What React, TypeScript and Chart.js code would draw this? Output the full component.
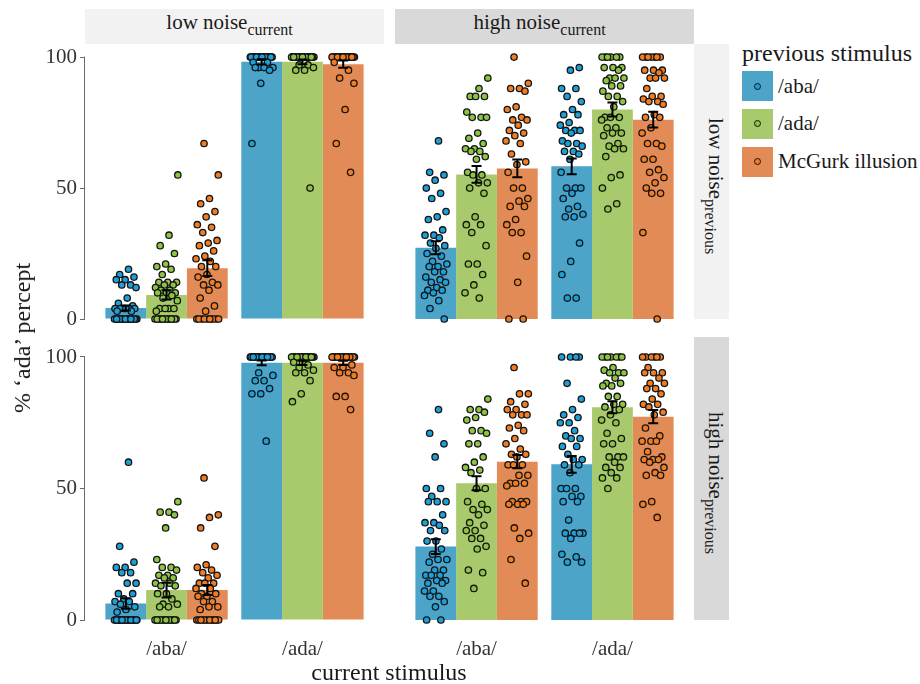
import React, { useEffect, useRef } from 'react';
import { Chart, registerables } from 'chart.js';

Chart.register(...registerables);
Chart.defaults.font.family = '"Liberation Serif", "DejaVu Serif", serif';

// ---------------- data ----------------
const categories = ['/aba/', '/ada/'];
const seriesNames = ['/aba/', '/ada/', 'McGurk illusion'];
const yTicks = [0, 50, 100];

// bar means: [series][category]
const meanTL = [[4.2, 98.2], [9.2, 98.2], [19.4, 97.3]];
const meanTR = [[27.2, 58.3], [55.2, 80.0], [57.5, 76.1]];
const meanBL = [[6.3, 97.8], [11.4, 97.8], [11.4, 97.8]];
const meanBR = [[27.9, 59.2], [52.0, 80.9], [60.2, 77.3]];

// standard errors: [series][category]
const seTL = [[1.0, 1.0], [1.8, 0.9], [3.0, 1.4]];
const seTR = [[2.5, 3.0], [3.2, 2.7], [3.4, 3.0]];
const seBL = [[2.0, 0.9], [2.8, 0.8], [1.9, 0.8]];
const seBR = [[2.8, 3.2], [2.7, 2.3], [2.5, 2.5]];

// individual participants: panel_category_previousStimulus (A=/aba/, D=/ada/, M=McGurk)
const tl_aba_A = [19, 17, 16, 15, 15, 13, 13, 12, 8, 6, 5, 4, 4, 4, 4, 4, 4, 3, 3, 0, 0, 0, 0, 0, 0, 0, 0, 0, 0, 0, 0, 0, 0, 0, 0, 0, 0, 0, 0, 0];
const tl_aba_D = [55, 32, 28, 25, 21, 20, 19, 17, 14, 14, 14, 13, 13, 12, 11, 11, 10, 10, 10, 9, 8, 7, 4, 4, 4, 4, 3, 0, 0, 0, 0, 0, 0, 0, 0, 0, 0, 0, 0, 0, 0, 0];
const tl_aba_M = [67, 55, 46, 44, 41, 39, 36, 35, 33, 30, 29, 28, 26, 24, 23, 22, 20, 20, 17, 16, 14, 13, 13, 11, 8, 5, 3, 0, 0, 0, 0, 0, 0, 0, 0, 0, 0];
const tl_ada_A = [100, 100, 100, 100, 100, 100, 100, 100, 100, 100, 100, 100, 100, 100, 100, 100, 100, 100, 100, 100, 100, 100, 100, 100, 100, 100, 100, 100, 98, 98, 96, 96, 96, 96, 95, 90, 67];
const tl_ada_D = [100, 100, 100, 100, 100, 100, 100, 100, 100, 100, 100, 100, 100, 100, 100, 100, 100, 100, 100, 100, 100, 100, 100, 100, 100, 100, 100, 100, 100, 100, 97, 97, 96, 95, 95, 50];
const tl_ada_M = [100, 100, 100, 100, 100, 100, 100, 100, 100, 100, 100, 100, 100, 100, 100, 100, 100, 100, 100, 100, 100, 100, 100, 100, 100, 100, 100, 100, 100, 100, 98, 95, 92, 90, 80, 67, 56];

const tr_aba_A = [68, 56, 55, 53, 50, 48, 46, 41, 39, 38, 34, 32, 32, 31, 29, 28, 27, 25, 24, 22, 21, 20, 20, 18, 18, 16, 15, 14, 14, 12, 11, 11, 10, 9, 7, 4, 0];
const tr_aba_D = [92, 88, 85, 85, 85, 79, 77, 77, 77, 71, 69, 67, 65, 65, 64, 64, 62, 61, 56, 55, 55, 52, 52, 50, 48, 39, 36, 36, 33, 28, 21, 21, 17, 13, 10, 8];
const tr_aba_M = [100, 90, 88, 88, 87, 81, 80, 77, 76, 76, 74, 72, 71, 70, 68, 67, 63, 60, 59, 56, 50, 50, 46, 45, 43, 43, 38, 36, 33, 33, 24, 14, 0, 0];
const tr_ada_A = [96, 95, 88, 88, 85, 83, 80, 78, 78, 75, 74, 72, 72, 72, 71, 68, 67, 67, 66, 64, 64, 63, 61, 56, 50, 50, 50, 48, 46, 43, 42, 40, 39, 39, 29, 22, 17, 8, 8];
const tr_ada_D = [100, 100, 100, 100, 100, 100, 96, 96, 96, 95, 92, 92, 92, 91, 89, 89, 87, 85, 85, 83, 81, 77, 77, 77, 76, 73, 73, 71, 71, 70, 67, 66, 65, 65, 62, 55, 54, 50, 44, 42];
const tr_ada_M = [100, 100, 100, 100, 100, 100, 100, 95, 95, 95, 94, 92, 92, 92, 88, 85, 85, 84, 83, 83, 82, 78, 77, 77, 73, 71, 67, 67, 66, 61, 61, 57, 56, 54, 52, 50, 48, 48, 33, 0];

const bl_aba_A = [60, 28, 22, 20, 20, 18, 18, 14, 14, 10, 10, 8, 7, 7, 6, 5, 4, 3, 0, 0, 0, 0, 0, 0, 0, 0, 0, 0, 0, 0, 0, 0, 0, 0, 0, 0, 0, 0, 0, 0, 0, 0];
const bl_aba_D = [45, 41, 41, 40, 35, 23, 20, 20, 19, 17, 17, 16, 16, 14, 14, 13, 13, 10, 10, 8, 6, 6, 5, 5, 0, 0, 0, 0, 0, 0, 0, 0, 0, 0, 0, 0, 0, 0, 0, 0];
const bl_aba_M = [54, 40, 39, 35, 28, 21, 20, 19, 18, 17, 16, 14, 14, 14, 12, 12, 10, 10, 9, 9, 7, 7, 5, 5, 4, 0, 0, 0, 0, 0, 0, 0, 0, 0, 0, 0, 0, 0, 0];
const bl_ada_A = [100, 100, 100, 100, 100, 100, 100, 100, 100, 100, 100, 100, 100, 100, 100, 100, 100, 100, 100, 100, 100, 100, 100, 100, 100, 100, 100, 100, 100, 100, 94, 93, 91, 91, 88, 86, 86, 68];
const bl_ada_D = [100, 100, 100, 100, 100, 100, 100, 100, 100, 100, 100, 100, 100, 100, 100, 100, 100, 100, 100, 100, 100, 100, 100, 100, 100, 100, 100, 100, 98, 98, 97, 96, 95, 94, 94, 91, 86, 83];
const bl_ada_M = [100, 100, 100, 100, 100, 100, 100, 100, 100, 100, 100, 100, 100, 100, 100, 100, 100, 100, 100, 100, 100, 100, 100, 100, 100, 100, 100, 100, 97, 96, 96, 94, 94, 93, 85, 85, 80];

const br_aba_A = [80, 71, 67, 62, 50, 50, 47, 45, 45, 45, 40, 37, 37, 36, 34, 34, 30, 30, 27, 25, 23, 23, 22, 19, 19, 17, 17, 17, 15, 15, 14, 14, 11, 11, 9, 9, 7, 5, 0, 0];
const br_aba_D = [84, 80, 80, 79, 77, 76, 72, 72, 71, 67, 67, 62, 60, 58, 57, 56, 50, 50, 45, 44, 42, 42, 40, 37, 36, 34, 34, 31, 31, 28, 27, 19, 18, 12];
const br_aba_M = [96, 86, 86, 83, 82, 80, 80, 78, 78, 78, 74, 73, 72, 69, 67, 65, 63, 63, 62, 59, 59, 59, 55, 55, 52, 52, 52, 51, 45, 45, 45, 44, 44, 44, 35, 33, 31, 23, 14];
const br_ada_A = [100, 100, 100, 100, 90, 84, 80, 78, 77, 75, 75, 72, 70, 69, 69, 66, 66, 63, 61, 61, 59, 59, 56, 50, 50, 50, 47, 47, 45, 45, 38, 33, 33, 33, 33, 31, 25, 24, 22, 22];
const br_ada_D = [100, 100, 100, 100, 100, 100, 100, 96, 95, 94, 94, 94, 92, 90, 90, 89, 89, 85, 85, 82, 82, 81, 80, 78, 76, 75, 71, 69, 67, 67, 62, 62, 62, 60, 58, 58, 56, 54, 54, 50];
const br_ada_M = [100, 100, 100, 100, 100, 100, 96, 94, 94, 94, 92, 90, 90, 88, 88, 86, 84, 82, 82, 81, 79, 78, 73, 70, 68, 68, 68, 64, 62, 61, 61, 61, 60, 58, 56, 55, 55, 45, 44, 39];

// ---------------- styling ----------------
const barColors = ['#4ca4c9', '#a8ca6c', '#e38b57'];
const pointColors = ['#1d9fda', '#8cc443', '#f27c22'];
const FONT = '"Liberation Serif", "DejaVu Serif", serif';
const GROUP = 0.9;
const JITTER = 0.085;
const barOffset = (s: number) => (s - 1) * (GROUP / 3);
const jitter = (i: number, s: number, c: number) => {
  const u = ((i + 1) * 0.6180339887 + s * 0.37 + c * 0.21) % 1;
  return (u - 0.5) * 2 * JITTER;
};

type PanelDef = {
  means: number[][];
  se: number[][];
  points: number[][][];
  yMax: number;
  showY: boolean;
  showX: boolean;
  left: number;
  top: number;
  w: number;
  h: number;
};

const panels: PanelDef[] = [
  { means: meanTL, se: seTL, points: [[tl_aba_A, tl_ada_A], [tl_aba_D, tl_ada_D], [tl_aba_M, tl_ada_M]], yMax: 105, showY: true, showX: false, left: 0, top: 44, w: 384, h: 289 },
  { means: meanTR, se: seTR, points: [[tr_aba_A, tr_ada_A], [tr_aba_D, tr_ada_D], [tr_aba_M, tr_ada_M]], yMax: 105, showY: false, showX: false, left: 395, top: 44, w: 299, h: 289 },
  { means: meanBL, se: seBL, points: [[bl_aba_A, bl_ada_A], [bl_aba_D, bl_ada_D], [bl_aba_M, bl_ada_M]], yMax: 107.6, showY: true, showX: true, left: 0, top: 337, w: 384, h: 343 },
  { means: meanBR, se: seBR, points: [[br_aba_A, br_ada_A], [br_aba_D, br_ada_D], [br_aba_M, br_ada_M]], yMax: 107.6, showY: false, showX: true, left: 395, top: 337, w: 299, h: 343 },
];

const errorBarPlugin = {
  id: 'errorBars',
  afterDatasetsDraw(chart: any, _args: any, opts: any) {
    const { ctx } = chart;
    const x = chart.scales.x;
    const y = chart.scales.y;
    ctx.save();
    ctx.strokeStyle = '#000';
    ctx.lineWidth = 2;
    (opts.means as number[][]).forEach((row, s) => {
      row.forEach((m, c) => {
        const e = opts.se[s][c];
        const px = x.getPixelForValue(c + barOffset(s));
        const y1 = y.getPixelForValue(m - e);
        const y2 = y.getPixelForValue(m + e);
        ctx.beginPath();
        ctx.moveTo(px, y1);
        ctx.lineTo(px, y2);
        ctx.moveTo(px - 5, y1);
        ctx.lineTo(px + 5, y1);
        ctx.moveTo(px - 5, y2);
        ctx.lineTo(px + 5, y2);
        ctx.stroke();
      });
    });
    ctx.restore();
  },
};

const rangeFramePlugin = {
  id: 'rangeFrame',
  afterDraw(chart: any, _args: any, opts: any) {
    if (!opts.show) return;
    const { ctx, chartArea } = chart;
    const y = chart.scales.y;
    const x0 = Math.round(chartArea.left) - 0.5;
    ctx.save();
    ctx.strokeStyle = '#6b6b6b';
    ctx.lineWidth = 1;
    ctx.beginPath();
    ctx.moveTo(x0, y.getPixelForValue(yTicks[0]) + 0.5);
    ctx.lineTo(x0, y.getPixelForValue(yTicks[yTicks.length - 1]) - 0.5);
    ctx.stroke();
    ctx.restore();
  },
};

function PanelChart({ def }: { def: PanelDef }) {
  const ref = useRef<HTMLCanvasElement>(null);
  useEffect(() => {
    const canvas = ref.current;
    if (!canvas) return;
    const datasets: any[] = [];
    seriesNames.forEach((name, s) => {
      datasets.push({
        type: 'bar',
        label: name,
        data: categories.map((_, c) => ({ x: c, y: def.means[s][c] })),
        backgroundColor: barColors[s],
        borderWidth: 0,
        categoryPercentage: GROUP,
        barPercentage: 1,
        order: 2,
      });
    });
    seriesNames.forEach((name, s) => {
      const pts: { x: number; y: number }[] = [];
      categories.forEach((_, c) => {
        def.points[s][c].forEach((v, i) => {
          pts.push({ x: c + barOffset(s) + jitter(i, s, c), y: v });
        });
      });
      datasets.push({
        type: 'scatter',
        label: name + ' participants',
        data: pts,
        showLine: false,
        pointRadius: 3.2,
        pointBackgroundColor: pointColors[s],
        pointBorderColor: '#151515',
        pointBorderWidth: 1.3,
        order: 1,
        clip: false,
      });
    });

    const chart = new Chart(canvas, {
      type: 'bar',
      data: { datasets },
      options: {
        animation: false,
        responsive: false,
        maintainAspectRatio: false,
        layout: { autoPadding: false, padding: { top: 0, right: 0, left: 0, bottom: def.showX ? 0 : 14 } },
        plugins: {
          legend: { display: false },
          tooltip: { enabled: false },
          errorBars: { means: def.means, se: def.se },
          rangeFrame: { show: def.showY },
        } as any,
        scales: {
          x: {
            type: 'linear',
            min: -0.6,
            max: 1.6,
            offset: false,
            display: def.showX,
            afterBuildTicks: (sc: any) => {
              sc.ticks = categories.map((_, i) => ({ value: i }));
            },
            afterFit: (sc: any) => {
              if (def.showX) sc.height = 60;
              sc.paddingLeft = 0;
              sc.paddingRight = 0;
            },
            grid: { display: false },
            border: { display: false },
            ticks: {
              autoSkip: false,
              maxRotation: 0,
              padding: 9,
              color: '#333',
              font: { family: FONT, size: 21 },
              callback: (v: any) => categories[Number(v)] ?? '',
            },
          },
          y: {
            type: 'linear',
            min: 0,
            max: def.yMax,
            display: def.showY,
            afterBuildTicks: (sc: any) => {
              sc.ticks = yTicks.map((v) => ({ value: v }));
            },
            afterFit: (sc: any) => {
              if (def.showY) sc.width = 85;
              sc.paddingTop = 0;
              sc.paddingBottom = 0;
            },
            grid: { drawOnChartArea: false, drawTicks: true, tickLength: 5, color: '#6b6b6b', lineWidth: 1 },
            border: { display: false },
            ticks: {
              padding: 3,
              color: '#333',
              font: { family: FONT, size: 21 },
            },
          },
        } as any,
      },
      plugins: [errorBarPlugin, rangeFramePlugin],
    } as any);
    return () => chart.destroy();
  }, [def]);
  return (
    <canvas
      ref={ref}
      width={def.w}
      height={def.h}
      style={{ position: 'absolute', left: def.left, top: def.top, width: def.w, height: def.h }}
    />
  );
}

const subStyle: React.CSSProperties = { fontSize: 16, verticalAlign: '-6px', lineHeight: 1 };

function TopStrip({ left, bg, label }: { left: number; bg: string; label: string }) {
  return (
    <div
      style={{
        position: 'absolute', left, top: 9, width: 299, height: 35, background: bg,
        display: 'flex', alignItems: 'center', justifyContent: 'center',
        fontFamily: FONT, fontSize: 21, color: '#1a1a1a', lineHeight: 1, whiteSpace: 'nowrap',
      }}
    >
      <span style={{ position: 'relative', top: -2, left: -5 }}>{label}<span style={subStyle}>current</span></span>
    </div>
  );
}

function SideStrip({ top, height, bg, label }: { top: number; height: number; bg: string; label: string }) {
  return (
    <div
      style={{
        position: 'absolute', left: 694, top, width: 35, height, background: bg,
        display: 'flex', alignItems: 'center', justifyContent: 'center',
        fontFamily: FONT, fontSize: 21, color: '#1a1a1a', lineHeight: 1, whiteSpace: 'nowrap',
      }}
    >
      <span style={{ writingMode: 'vertical-rl', position: 'relative', left: 2, top: 5 }}>{label}<span style={subStyle}>previous</span></span>
    </div>
  );
}

export default function App() {
  return (
    <div style={{ position: 'absolute', left: 0, top: 0, width: 920, height: 684, background: '#fff', overflow: 'hidden', fontFamily: FONT }}>
      {panels.map((p, i) => (
        <PanelChart key={i} def={p} />
      ))}
      <TopStrip left={85} bg="#f2f2f2" label="low noise" />
      <TopStrip left={395} bg="#d9d9d9" label="high noise" />
      <SideStrip top={44} height={275} bg="#f2f2f2" label="low noise" />
      <SideStrip top={337} height={283} bg="#d9d9d9" label="high noise" />

      {/* legend */}
      <div style={{ position: 'absolute', left: 742, top: 41, fontSize: 24, lineHeight: '24px', color: '#1a1a1a', whiteSpace: 'nowrap' }}>
        previous stimulus
      </div>
      {seriesNames.map((name, s) => (
        <div key={name} style={{ position: 'absolute', left: 742, top: 71 + s * 37.8, height: 30, display: 'flex', alignItems: 'center', whiteSpace: 'nowrap' }}>
          <div style={{ width: 31, height: 30, background: barColors[s], display: 'flex', alignItems: 'center', justifyContent: 'center' }}>
            <div style={{ width: 5, height: 5, borderRadius: '50%', background: pointColors[s], border: '1.3px solid #151515' }} />
          </div>
          <span style={{ marginLeft: 5, fontSize: 21, color: '#1a1a1a', lineHeight: 1 }}>{name}</span>
        </div>
      ))}

      {/* axis titles */}
      <div style={{ position: 'absolute', left: 22, top: 338, transform: 'translate(-50%, -50%) rotate(-90deg)', fontSize: 24, color: '#1a1a1a', whiteSpace: 'nowrap', lineHeight: 1 }}>
        % ‘ada’ percept
      </div>
      <div style={{ position: 'absolute', left: 389, top: 660, transform: 'translateX(-50%)', fontSize: 24, color: '#1a1a1a', whiteSpace: 'nowrap', lineHeight: 1 }}>
        current stimulus
      </div>
    </div>
  );
}
